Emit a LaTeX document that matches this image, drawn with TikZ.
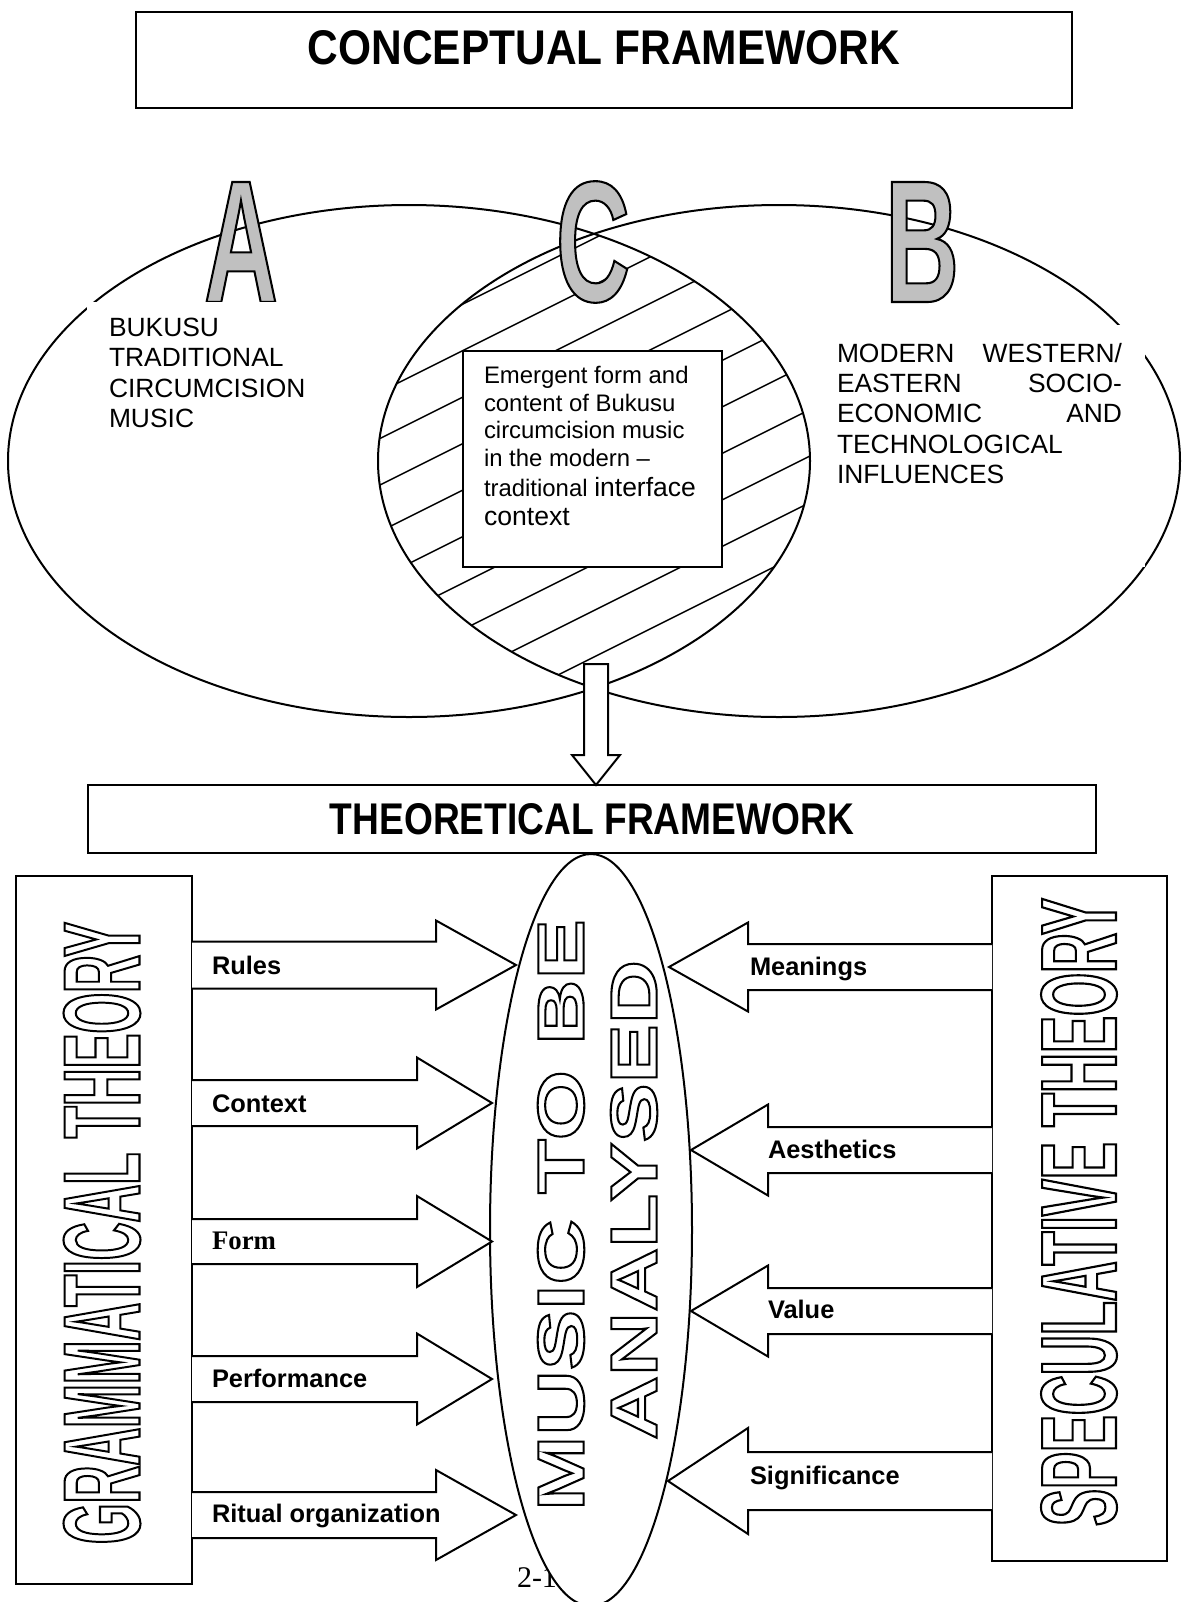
\documentclass[tikz,border=0pt]{standalone}
\usepackage{fontspec}
\setmainfont{Liberation Sans}
\newfontfamily\tnr{Liberation Serif}
\newfontfamily\olnarrowA[FakeStretch=0.61]{Liberation Sans}
\newfontfamily\olnarrowG[FakeStretch=0.5]{Liberation Sans}
\newfontfamily\olwide[FakeStretch=1.38]{Liberation Sans}
\usepackage{graphicx}
\definecolor{letgrey}{RGB}{192,192,192}
\makeatletter
\newcommand{\olstroke}{\pgfsys@invoke{0 G 2 Tr 1 w}}
\newcommand{\olunstroke}{\pgfsys@invoke{0 Tr}}
\makeatother
\tikzset{
  every node/.style={inner sep=0pt, outer sep=0pt},
  frame/.style={draw, line width=1pt},
  blk/.style={draw, fill=white, line width=1pt, line join=miter},
  hatch/.style={line width=0.7pt},
  ell/.style={line width=1pt},
  ln/.style={anchor=base west, font=\fontsize{13.2}{15}\selectfont},
  bx/.style={anchor=base west, font=\fontsize{11.95}{14}\selectfont},
  lab/.style={anchor=base west, font=\bfseries\fontsize{12.7}{15}\selectfont},
  labserif/.style={anchor=base west, font=\tnr\bfseries\fontsize{13.4}{15}\selectfont},
}
% outlined text: name, centre, rotation, fill colour, width, height, font, text
\newcommand{\olnode}[8]{%
  \node[rotate=#3, text=#4] (#1) at (#2) {\resizebox{#5}{#6}{#7\selectfont\olstroke #8\olunstroke}};
}
% block arrow: base x, head x, tip x, mid y, shaft half, head half
\newcommand{\blockarrow}[6]{%
  \draw[blk] (#1,{#4-#5}) -- (#2,{#4-#5}) -- (#2,{#4-#6}) -- (#3,#4) -- (#2,{#4+#6}) -- (#2,{#4+#5}) -- (#1,{#4+#5});
}
\begin{document}
\begin{tikzpicture}[x=0.5pt, y=-0.5pt]
\useasboundingbox (0,0) rectangle (1189,1602);

% ---------- conceptual framework ----------
\draw[frame] (136,12) rectangle (1072,108);
\node (ctitle) at (604,48) {\resizebox{296pt}{17pt}{\bfseries CONCEPTUAL FRAMEWORK}};

\draw[ell] (409,461) ellipse [x radius=401, y radius=256];
\draw[ell] (779,461) ellipse [x radius=401, y radius=256];
\begin{scope}
  \clip (409,461) ellipse [x radius=401, y radius=256];
  \clip (779,461) ellipse [x radius=401, y radius=256];
  \foreach \c in {489,535.5,...,1060} \draw[hatch] (300,\c-150) -- (900,\c-450);
\end{scope}

\olnode{letA}{241,242}{0}{letgrey}{37pt}{60pt}{\olnarrowA\bfseries\fontsize{83}{90}}{A}
\olnode{letC}{593,242}{0}{letgrey}{37pt}{60pt}{\olnarrowA\bfseries\fontsize{83}{90}}{C}
\olnode{letB}{922,242}{0}{letgrey}{37pt}{60pt}{\olnarrowA\bfseries\fontsize{83}{90}}{B}

\fill[white] (87,302) rectangle (370,543);
\fill[white] (813,325) rectangle (1145,567);

\node[ln] (l1) at (109,336) {BUKUSU};
\node[ln] (l2) at (109,366) {TRADITIONAL};
\node[ln] (l3) at (109,397) {CIRCUMCISION};
\node[ln] (l4) at (109,427) {MUSIC};

\node[ln] (r1) at (837,362) {\makebox[142.5pt][s]{MODERN\hfill WESTERN/}};
\node[ln] (r2) at (837,392) {\makebox[142.5pt][s]{EASTERN\hfill SOCIO-}};
\node[ln] (r3) at (837,422) {\makebox[142.5pt][s]{ECONOMIC\hfill AND}};
\node[ln] (r4) at (837,453) {TECHNOLOGICAL};
\node[ln] (r5) at (837,483) {INFLUENCES};

\draw[frame, fill=white] (463,351) rectangle (722,567);
\node[bx] (e1) at (484,383) {Emergent form and};
\node[bx] (e2) at (484,411) {content of Bukusu};
\node[bx] (e3) at (484,438) {circumcision music};
\node[bx] (e4) at (484,466) {in the modern –};
\node[bx] (e5) at (484,496) {traditional {\fontsize{13.25}{15}\selectfont interface}};
\node[bx, font=\fontsize{13.3}{15}\selectfont] (e6) at (484,525) {context};

% down arrow
\draw[blk] (584,664) -- (608,664) -- (608,755) -- (620,755) -- (596,785) -- (572,755) -- (584,755) -- cycle;

% ---------- theoretical framework ----------
\draw[frame] (88,785) rectangle (1096,853);
\node (ttitle) at (592,819) {\resizebox{262pt}{15.5pt}{\bfseries THEORETICAL FRAMEWORK}};

\draw[frame] (16,876) rectangle (192,1584);
\draw[frame] (992,876) rectangle (1167,1561);
\olnode{gram}{102,1233}{90}{white}{311pt}{38pt}{\olnarrowG\bfseries\fontsize{53}{60}}{GRAMMATICAL THEORY}
\olnode{spec}{1079,1212}{90}{white}{314pt}{37.5pt}{\olnarrowG\bfseries\fontsize{52}{60}}{SPECULATIVE THEORY}

\node[anchor=base west, font=\tnr\fontsize{15}{18}\selectfont] (pgno) at (517,1587) {2-1};
\draw[frame, fill=white] (591,1230) ellipse [x radius=101, y radius=376];
\olnode{mus1}{561,1215}{90}{white}{296pt}{23pt}{\olwide\bfseries\fontsize{32}{36}}{MUSIC TO BE}
\olnode{mus2}{634,1200}{90}{white}{240pt}{23pt}{\olwide\bfseries\fontsize{32}{36}}{ANALYSED}

% left arrows
\blockarrow{192}{436}{516}{965}{23.5}{44.5}
\blockarrow{192}{417}{492}{1103}{23}{45.5}
\blockarrow{192}{417}{492}{1241.5}{22.5}{45.5}
\blockarrow{192}{417}{492}{1379}{23}{45.5}
\blockarrow{192}{436}{516}{1515}{23}{45}
% right arrows
\blockarrow{992}{748}{669}{967}{23}{44.5}
\blockarrow{992}{768}{691}{1150}{23}{45.5}
\blockarrow{992}{768}{691}{1311}{23}{45.5}
\blockarrow{992}{748}{668}{1481}{29}{53}

\node[lab] (rules) at (212,974) {Rules};
\node[lab] (context) at (212,1112) {Context};
\node[labserif] (form) at (212,1249) {Form};
\node[lab] (perf) at (212,1387) {Performance};
\node[lab] (ritual) at (212,1522) {Ritual organization};
\node[lab] (mean) at (750,975) {Meanings};
\node[lab] (aes) at (768,1158) {Aesthetics};
\node[lab] (val) at (768,1318) {Value};
\node[lab] (sig) at (750,1484) {Significance};
\end{tikzpicture}
\end{document}
